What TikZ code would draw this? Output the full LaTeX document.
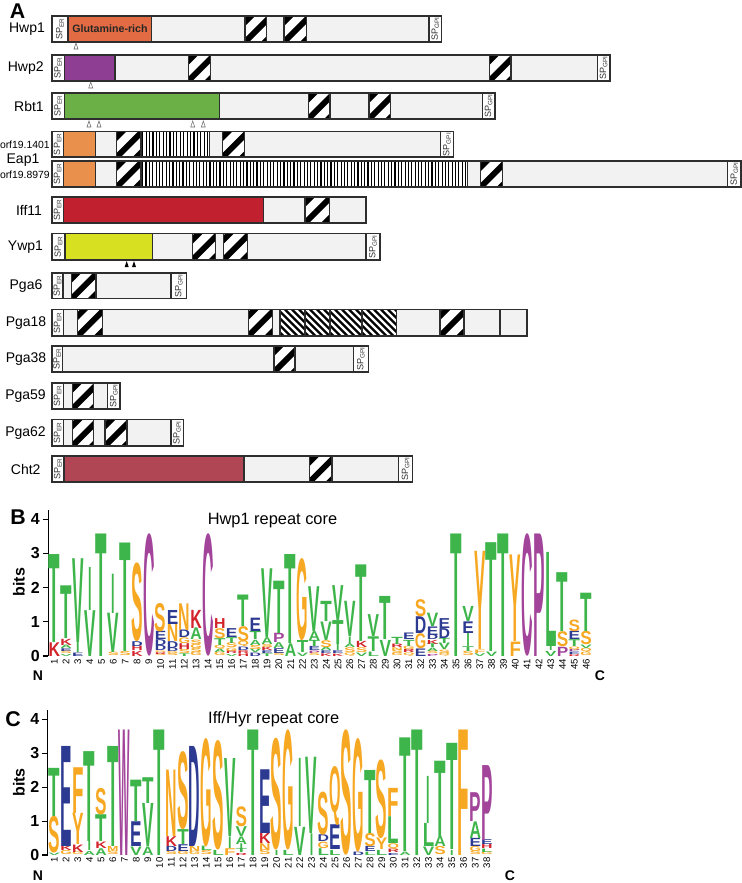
\documentclass[tikz,border=0pt]{standalone}
\usepackage{fontspec}
\setmainfont{Liberation Sans}
\usepackage{graphicx}
\definecolor{lgray}{HTML}{F2F2F2}
\definecolor{segborder}{HTML}{2E2E2E}
\definecolor{chwp}{HTML}{E26B43}
\definecolor{chwpb}{HTML}{8E3F93}
\definecolor{crbt}{HTML}{6BB046}
\definecolor{ceap}{HTML}{E9914C}
\definecolor{ciff}{HTML}{C1202F}
\definecolor{cywp}{HTML}{D8E022}
\definecolor{ccht}{HTML}{B04654}
\definecolor{lg}{HTML}{3DB54A}
\definecolor{lo}{HTML}{F7A823}
\definecolor{lp}{HTML}{A3449B}
\definecolor{lb}{HTML}{2D3A92}
\definecolor{lr}{HTML}{D2232A}
\newlength\lgwA \newlength\lgwI
\def\lgIletter{I}
\tikzset{
 segst/.style={draw=segborder, line width=0.8pt},
 sptext/.style={rotate=90, inner sep=0, font=\fontsize{6.8}{7}\selectfont, text=black!80},
 plab/.style={font=\fontsize{10.5}{12}\selectfont},
 olab/.style={font=\fontsize{7.8}{9}\selectfont, anchor=east, inner sep=0},
 lgl/.style={inner sep=0, outer sep=0, anchor=south, font=\bfseries},
 ticklab/.style={font=\bfseries\fontsize{12}{14}\selectfont, anchor=east, inner sep=0},
 posn/.style={rotate=90, anchor=east, inner sep=0, font=\fontsize{7.2}{8}\selectfont},
 panel/.style={font=\bfseries\fontsize{16}{18}\selectfont},
 endlab/.style={font=\bfseries\fontsize{10.5}{12}\selectfont},
 title/.style={font=\fontsize{12.3}{14}\selectfont},
}
\newcommand\rowy[2]{\def\yt{#1}\def\yb{#2}}
\newcommand\pbar[2]{\draw[segst,fill=lgray] (#1,\yt) rectangle (#2,\yb);}
\newcommand\scol[3]{\draw[segst,fill=#3] (#1,\yt) rectangle (#2,\yb);}
\newcommand\sper[2]{\draw[segst,fill=white] (#1,\yt) rectangle (#2,\yb);
 \node[sptext] at ({(#1+#2)/2},{(\yt+\yb)/2}) {SP\textsubscript{ER}};}
\newcommand\sgpi[2]{\draw[segst,fill=white] (#1,\yt) rectangle (#2,\yb);
 \node[sptext] at ({(#1+#2)/2},{(\yt+\yb)/2}) {SP\textsubscript{GPI}};}
\newcommand\hatchbox[2]{%
 \begin{scope}
 \clip (#1,\yt) rectangle (#2,\yb);
 \fill[white] (#1,\yt) rectangle (#2,\yb);
 \foreach \d in {-40,-20,0,20,40}{
   \draw[line width=4.4pt] ({#1+\d-10},{\yb+10}) -- ({#1+\d+40},{\yb-40});
 }
 \end{scope}
 \draw[segst] (#1,\yt) rectangle (#2,\yb);}
\newcommand\bhatch[2]{%
 \begin{scope}
 \clip (#1,\yt) rectangle (#2,\yb);
 \fill[white] (#1,\yt) rectangle (#2,\yb);
 \foreach \k in {0,...,10}{
   \draw[line width=1.6pt] ({#1-30+\k*7},{\yt}) -- ({#1+\k*7},{\yt+30});
 }
 \end{scope}
 \draw[segst] (#1,\yt) rectangle (#2,\yb);}
\newcommand\vlines[3]{%
 \fill[white] (#1,\yt) rectangle (#2,\yb);
 \pgfmathsetmacro\vsp{(#2-#1)/#3}
 \foreach \k in {1,...,#3}{
   \draw[line width=0.85pt] ({#1+(\k-0.5)*\vsp},\yt) -- ({#1+(\k-0.5)*\vsp},\yb);
 }
 \draw[segst] (#1,\yt) rectangle (#2,\yb);}
\newcommand\otri[2]{\draw[draw=black!60,fill=white,line width=0.4pt] ({#1-2},{#2+3}) -- (#1,{#2-3}) -- ({#1+2},{#2+3}) -- cycle;}
\newcommand\btri[2]{\fill[black] ({#1-2},{#2+3}) -- (#1,{#2-3}) -- ({#1+2},{#2+3}) -- cycle;}
\newcommand\COL[2]{%
 \pgfmathsetmacro\lgx{\lgxo+(#1-1)*\lgdx}%
 \gdef\lgacc{0}%
 \foreach \lgL/\lgC/\lgH in {#2}{%
  \pgfmathsetmacro\lgy{\lgzero-\lgacc*\lgbit}%
  \pgfmathsetlengthmacro\lgh{\lgH*\lgbit*0.75}%
  \ifx\lgL\lgIletter\def\lgwd{\lgwI}\else\def\lgwd{\lgwA}\fi
  \node[lgl] at (\lgx,\lgy) {\resizebox*{\lgwd}{\lgh}{\color{\lgC}\lgL}};%
  \pgfmathsetmacro\lgt{\lgacc+\lgH}\global\let\lgacc\lgt
 }}
\begin{document}
\begin{tikzpicture}[x=0.75pt,y=-0.75pt]
\useasboundingbox (0,0) rectangle (742,883);
% ---------------- Panel A
\node[panel] (pA) at (17.5,11) {A};
% Hwp1
\rowy{16}{42}
\pbar{52}{441.7}
\sper{52}{68}
\scol{68}{151.7}{chwp}
\node[font=\bfseries\fontsize{8}{9}\selectfont, text=black!85] (glut) at (110,29) {Glutamine-rich};
\hatchbox{245}{266.7}
\hatchbox{284}{306.7}
\sgpi{429}{441.7}
\otri{76}{46}
\node[plab] (lHwp1) at (27,29) {Hwp1};
% Hwp2
\rowy{55}{81}
\pbar{52}{610}
\sper{52}{64.3}
\scol{64.3}{115}{chwpb}
\hatchbox{188.3}{210.7}
\hatchbox{489.3}{511}
\sgpi{597.3}{610}
\otri{90.7}{85}
\node[plab] (lHwp2) at (25.7,68) {Hwp2};
% Rbt1
\rowy{93}{119}
\pbar{52}{495}
\sper{52}{64.3}
\scol{64.3}{219.3}{crbt}
\hatchbox{308.3}{330}
\hatchbox{369}{390.7}
\sgpi{482.3}{495}
\otri{89}{124}\otri{99}{124}\otri{192.7}{124}\otri{203.3}{124}
\node[plab] (lRbt1) at (29,106) {Rbt1};
% Eap1 orf19.1401
\rowy{131.5}{157}
\pbar{52}{453.3}
\sper{52}{63.3}
\scol{63.3}{95.7}{ceap}
\hatchbox{116.7}{141}
\vlines{141}{209.3}{20}
\hatchbox{222.7}{244.3}
\sgpi{440.7}{453.3}
% Eap1 orf19.8979
\rowy{161}{187}
\pbar{52}{741}
\sper{52}{63.3}
\scol{63.3}{95.7}{ceap}
\hatchbox{116.7}{141}
\vlines{141}{467.3}{97}
\hatchbox{480.7}{502.7}
\sgpi{727.7}{741}
\node[olab] (lo1) at (50,145) {orf19.1401};
\node[plab] (lEap1) at (23,160.5) {Eap1};
\node[olab] (lo2) at (50,174.5) {orf19.8979};
% Iff11
\rowy{197}{223}
\pbar{52}{366}
\sper{52}{63.3}
\scol{63.3}{263.3}{ciff}
\hatchbox{305}{329.3}
\node[plab] (lIff11) at (29,210) {Iff11};
% Ywp1
\rowy{233.5}{260}
\pbar{52}{380}
\sper{52}{65}
\scol{65}{152.7}{cywp}
\hatchbox{192.3}{215.7}
\hatchbox{223.3}{247.3}
\sgpi{366}{380}
\btri{126.7}{264}\btri{134}{264}
\node[plab] (lYwp1) at (25.5,247) {Ywp1};
% Pga6
\rowy{273}{298.5}
\pbar{52}{186.7}
\sper{52}{63}
\draw[segst] (71.7,\yt) -- (71.7,\yb);
\hatchbox{71.7}{96}
\sgpi{171}{186.7}
\node[plab] (lPga6) at (26,286) {Pga6};
% Pga18
\rowy{309.5}{336}
\pbar{52}{527}
\sper{52}{63.3}
\hatchbox{77.7}{102.3}
\hatchbox{248.3}{272.3}
\bhatch{280}{305}\bhatch{305}{330}\bhatch{330}{362}\bhatch{362}{396.7}
\hatchbox{440}{464}
\draw[segst] (500,\yt) -- (500,\yb);
\node[plab] (lPga18) at (26,323) {Pga18};
% Pga38
\rowy{346}{372}
\pbar{52}{368.3}
\sper{52}{62.3}
\hatchbox{274}{295}
\sgpi{353.3}{368.3}
\node[plab] (lPga38) at (26,359) {Pga38};
% Pga59
\rowy{383}{409}
\pbar{52}{120}
\sper{52}{63.3}
\draw[segst] (72.3,\yt) -- (72.3,\yb);
\hatchbox{72.3}{93.3}
\sgpi{107.7}{120}
\node[plab] (lPga59) at (25.5,396) {Pga59};
% Pga62
\rowy{419.5}{446}
\pbar{52}{183.3}
\sper{52}{63.3}
\hatchbox{72.3}{93.3}
\hatchbox{105}{127}
\sgpi{171}{183.3}
\node[plab] (lPga62) at (25.5,433) {Pga62};
% Cht2
\rowy{456}{482}
\pbar{52}{412.8}
\sper{52}{64}
\scol{64}{244}{ccht}
\hatchbox{309.4}{332}
\sgpi{398.4}{412.8}
\node[plab] (lCht2) at (25.7,469) {Cht2};
% ---------------- Panel B
\node[panel] (pB) at (18,517.5) {B};
\draw[line width=0.9pt] (48.3,510) -- (48.3,656);
\foreach \v in {0,...,4}{
  \draw[line width=0.9pt] (42.5,{656-\v*34.2}) -- (48.3,{656-\v*34.2});
  \node[ticklab] at (40,{656-\v*34.2}) {\v};
}
\node[rotate=90, font=\bfseries\fontsize{12}{14}\selectfont] (bitsB) at (19,582) {bits};
\node[title] (tB) at (272.5,521) {Hwp1 repeat core};
\def\lgzero{656}\def\lgbit{34.2}\def\lgxo{54.3}\def\lgdx{11.82}
\setlength\lgwA{8.6pt}\setlength\lgwI{2.6pt}
\COL{1}{K/lr/0.4,T/lg/2.57}
\COL{2}{V/lg/0.06,S/lo/0.08,E/lb/0.08,A/lg/0.1,K/lr/0.18,T/lg/1.54}
\COL{3}{E/lb/0.1,I/lg/0.3,V/lg/2.45}
\COL{4}{V/lg/1.34,I/lg/1.26}
\COL{5}{T/lg/3.58}
\COL{6}{S/lo/0.1,V/lg/1.15,I/lg/1.15}
\COL{7}{S/lo/0.12,T/lg/3.17}
\COL{8}{K/lr/0.15,H/lr/0.13,D/lb/0.14,S/lo/2.3}
\COL{9}{C/lp/3.58}
\COL{10}{S/lo/0.05,R/lr/0.05,G/lo/0.05,D/lb/0.15,D/lb/0.17,E/lb/0.24,S/lo/0.83}
\COL{11}{S/lo/0.06,G/lo/0.06,D/lb/0.1,D/lb/0.2,N/lo/0.51,E/lb/0.41}
\COL{12}{T/lg/0.08,S/lo/0.12,H/lr/0.17,G/lo/0.17,D/lb/0.22,N/lo/0.78}
\COL{13}{G/lo/0.1,S/lo/0.12,G/lo/0.12,S/lo/0.13,A/lg/0.34,K/lr/0.53}
\COL{14}{C/lp/3.58}
\COL{15}{G/lo/0.1,A/lg/0.1,Q/lo/0.12,T/lg/0.2,S/lo/0.29,H/lr/0.29}
\COL{16}{V/lg/0.06,R/lr/0.08,G/lo/0.1,S/lo/0.14,T/lg/0.17,E/lb/0.26}
\COL{17}{H/lr/0.08,R/lr/0.08,D/lb/0.1,Q/lo/0.16,S/lo/0.44,T/lg/0.92}
\COL{18}{D/lb/0.1,V/lg/0.1,S/lo/0.12,A/lg/0.15,T/lg/0.24,E/lb/0.39}
\COL{19}{T/lg/0.08,E/lb/0.08,K/lr/0.1,S/lo/0.09,A/lg/0.2,V/lg/2.01}
\COL{20}{S/lo/0.08,E/lb/0.14,A/lg/0.17,P/lp/0.27,T/lg/1.53}
\COL{21}{A/lg/0.37,T/lg/2.6}
\COL{22}{V/lg/0.1,T/lg/0.35,G/lo/2.4}
\COL{23}{S/lo/0.08,P/lp/0.07,E/lb/0.12,T/lg/0.18,A/lg/0.26,V/lg/1.31}
\COL{24}{K/lr/0.08,E/lb/0.08,A/lg/0.1,S/lo/0.2,V/lg/0.54,T/lg/0.59}
\COL{25}{K/lr/0.07,E/lb/0.08,I/lg/0.2,T/lg/0.7,V/lg/1.02}
\COL{26}{Q/lo/0.1,S/lo/0.14,A/lg/0.1,I/lg/0.22,V/lg/1.03}
\COL{27}{V/lg/0.1,S/lo/0.14,K/lr/0.18,T/lg/2.24}
\COL{28}{L/lg/0.13,T/lg/0.43,V/lg/0.64}
\COL{29}{V/lg/0.47,T/lg/1.26}
\COL{30}{G/lo/0.07,S/lo/0.1,N/lo/0.08,R/lr/0.1,T/lg/0.21}
\COL{31}{Q/lo/0.1,R/lr/0.09,G/lo/0.1,T/lg/0.18,E/lb/0.19}
\COL{32}{E/lb/0.22,G/lo/0.44,D/lb/0.49,S/lo/0.5}
\COL{33}{P/lp/0.06,S/lo/0.08,A/lg/0.1,T/lg/0.11,K/lr/0.12,D/lb/0.14,E/lb/0.25,V/lg/0.39}
\COL{34}{Q/lo/0.08,S/lo/0.1,V/lg/0.19,T/lg/0.15,D/lb/0.29,E/lb/0.29}
\COL{35}{T/lg/3.58}
\COL{36}{S/lo/0.13,T/lg/0.14,I/lg/0.39,E/lb/0.34,V/lg/0.44}
\COL{37}{V/lg/0.08,F/lo/0.1,Y/lo/2.87}
\COL{38}{V/lg/0.13,T/lg/3.18}
\COL{39}{T/lg/3.58}
\COL{40}{F/lo/0.42,Y/lo/2.53}
\COL{41}{C/lp/3.58}
\COL{42}{P/lp/3.58}
\COL{43}{V/lg/0.15,I/lg/0.12,L/lg/2.75}
\COL{44}{P/lp/0.27,S/lo/0.44,T/lg/1.72}
\COL{45}{R/lr/0.05,E/lb/0.07,P/lp/0.06,Q/lo/0.09,T/lg/0.2,E/lb/0.24,S/lo/0.34}
\COL{46}{G/lo/0.1,Q/lo/0.12,V/lg/0.1,S/lo/0.39,T/lg/1.12}
\foreach \i in {1,...,46}{\node[posn] at ({54.3+(\i-1)*11.82},659) {\i};}
\node[endlab] (nB) at (38,676) {N};
\node[endlab] (cB) at (600,676) {C};
% ---------------- Panel C
\node[panel] (pC) at (13,719.3) {C};
\draw[line width=0.9pt] (47.7,710) -- (47.7,855);
\foreach \v in {0,...,4}{
  \draw[line width=0.9pt] (42,{855-\v*33.9}) -- (47.7,{855-\v*33.9});
  \node[ticklab] at (39.5,{855-\v*33.9}) {\v};
}
\node[rotate=90, font=\bfseries\fontsize{12}{14}\selectfont] (bitsC) at (19,782.5) {bits};
\node[title] (tC) at (273.7,719.3) {Iff/Hyr repeat core};
\def\lgzero{855}\def\lgbit{33.9}\def\lgxo{54.4}\def\lgdx{11.69}
\setlength\lgwA{8.6pt}
\COL{1}{V/lg/0.07,S/lo/1.08,T/lg/1.42}
\COL{2}{G/lo/0.12,K/lr/0.13,E/lb/2.95}
\COL{3}{G/lo/0.08,K/lr/0.22,Y/lo/0.92,F/lo/1.35}
\COL{4}{A/lg/0.12,I/lg/0.27,T/lg/2.65}
\COL{5}{A/lg/0.2,K/lr/0.19,T/lg/0.79,S/lo/0.78}
\COL{6}{S/lo/0.1,M/lo/0.15,T/lg/2.95}
\COL{7}{W/lp/3.7}
\COL{8}{V/lg/0.25,E/lb/0.73,T/lg/1.22}
\COL{9}{A/lg/0.25,V/lg/1.27,T/lg/0.76}
\COL{10}{T/lg/3.7}
\COL{11}{S/lo/0.1,D/lb/0.15,K/lr/0.29,N/lo/1.96}
\COL{12}{G/lo/0.1,E/lb/0.2,T/lg/0.44,S/lo/2.3}
\COL{13}{G/lo/0.1,N/lo/0.15,D/lb/2.95}
\COL{14}{S/lo/0.12,L/lg/0.13,G/lo/3.2}
\COL{15}{L/lg/0.15,S/lo/3.23}
\COL{16}{F/lo/0.2,I/lg/0.34,V/lg/2.3}
\COL{17}{R/lr/0.06,T/lg/0.12,I/lg/0.14,A/lg/0.22,V/lg/0.29,S/lo/0.59}
\COL{18}{T/lg/3.7}
\COL{19}{S/lo/0.14,N/lo/0.2,K/lr/0.3,E/lb/1.88}
\COL{20}{I/lg/0.15,S/lo/3.3}
\COL{21}{L/lg/0.15,G/lo/3.55}
\COL{22}{V/lg/0.83,I/lg/2.01}
\COL{23}{I/lg/0.64,V/lg/2.25}
\COL{24}{L/lg/0.2,G/lo/0.19,D/lb/0.2,S/lo/1.27}
\COL{25}{L/lg/0.15,E/lb/0.73,Q/lo/1.74}
\COL{26}{S/lo/3.7}
\COL{27}{D/lb/0.1,G/lo/3.35}
\COL{28}{L/lg/0.1,E/lb/0.15,S/lo/0.39,T/lg/1.86}
\COL{29}{L/lg/0.15,Y/lo/0.34,S/lo/2.32}
\COL{30}{E/lb/0.06,R/lr/0.1,Q/lo/0.18,L/lg/0.79,F/lo/0.83}
\COL{31}{A/lg/0.1,T/lg/3.35}
\COL{32}{T/lg/3.7}
\COL{33}{V/lg/0.25,L/lg/0.68,I/lg/1.39}
\COL{34}{S/lo/0.24,A/lg/0.3,T/lg/2.22}
\COL{35}{I/lg/0.15,T/lg/3.13}
\COL{36}{F/lo/3.7}
\COL{37}{S/lo/0.1,G/lo/0.15,E/lb/0.24,A/lg/0.49,P/lp/0.85}
\COL{38}{G/lo/0.08,L/lg/0.1,H/lr/0.12,E/lb/0.14,P/lp/2.21}
\foreach \i in {1,...,38}{\node[posn] at ({54.4+(\i-1)*11.69},857.3) {\i};}
\node[endlab] (nC) at (38,876) {N};
\node[endlab] (cC) at (510,876) {C};
\end{tikzpicture}
\end{document}
